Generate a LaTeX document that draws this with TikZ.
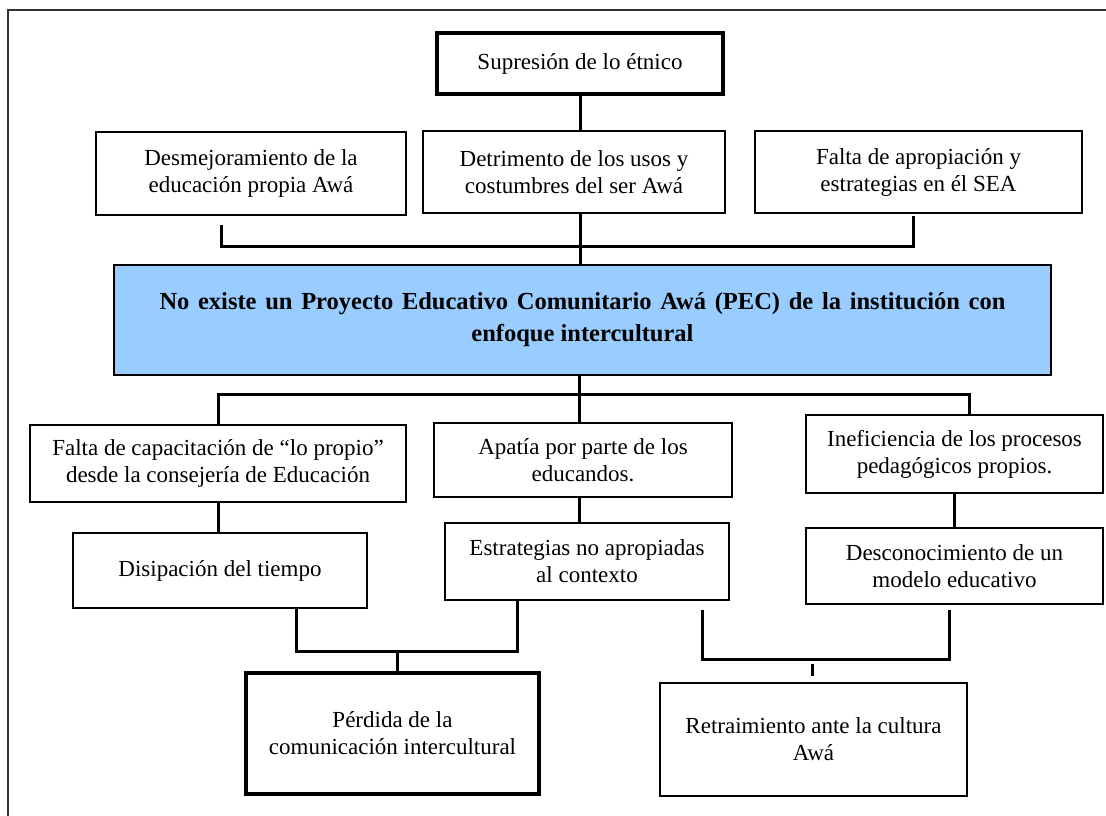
\documentclass[tikz,border=0pt]{standalone}
\usepackage{fontspec}
\setmainfont{Liberation Serif}
\usepackage{xcolor}
\definecolor{pecblue}{RGB}{153, 204, 255}
\usetikzlibrary{calc}

\begin{document}
\begin{tikzpicture}[
  x=1pt, y=-1pt,
  every node/.style={font=\fontsize{23}{27}\selectfont, align=center, inner sep=0pt},
  causebox/.style={draw=black, fill=white, line width=1.8pt},
  strongbox/.style={draw=black, fill=white, line width=3.2pt},
  corebox/.style={draw=black, fill=pecblue, line width=2.4pt, font=\fontsize{24.5}{32}\selectfont\bfseries},
  connector/.style={draw=black, line width=3pt}
]

% Page and frame
\path[fill=white, use as bounding box] (0,0) rectangle (1106,816);
\draw[line width=1.2pt, black!80] (8,816) -- (8,10) -- (1106,10);

% Upper level
\node[strongbox, minimum width=286, minimum height=61] (supr) at (580,63.5) {Supresión de lo étnico};
\node[causebox, minimum width=310, minimum height=83] (desm) at (251,173.5) {Desmejoramiento de la\\educación propia Awá};
\node[causebox, minimum width=302, minimum height=82] (detr) at (574,172) {Detrimento de los usos y\\costumbres del ser Awá};
\node[causebox, minimum width=327, minimum height=82] (apro) at (918.5,172) {Falta de apropiación y\\estrategias en él SEA};

% Central problem
\node[corebox, minimum width=937, minimum height=110] (core) at (582.5,320)
  {\makebox[846pt][s]{No existe un Proyecto Educativo Comunitario Awá (PEC) de la institución con}\\enfoque intercultural};

% Lower level
\node[causebox, minimum width=376, minimum height=77] (capa) at (218,463.5) {Falta de capacitación de “lo propio”\\desde la consejería de Educación};
\node[causebox, minimum width=298, minimum height=74] (apat) at (583,460) {Apatía por parte de los\\educandos.};
\node[causebox, minimum width=297, minimum height=78] (ineff) at (954.5,454) {Ineficiencia de los procesos\\pedagógicos propios.};
\node[causebox, minimum width=294, minimum height=75] (disip) at (220,570.5) {Disipación del tiempo};
\node[causebox, minimum width=284, minimum height=77] (estr) at (587,561.5) {Estrategias no apropiadas\\al contexto};
\node[causebox, minimum width=297, minimum height=76] (desc) at (954.5,566) {Desconocimiento de un\\modelo educativo};
\node[strongbox, minimum width=293, minimum height=121] (perd) at (392.5,733.5) {Pérdida de la\\comunicación intercultural};
\node[causebox, line width=2.2pt, minimum width=307, minimum height=113] (retr) at (813.5,739.5) {Retraimiento ante la cultura\\Awá};

% Junction points
\coordinate (tbl) at (221,225);
\coordinate (tbm) at (567,246);
\coordinate (tbr) at (913,216);
\coordinate (hub) at (579,394);
\coordinate (lj) at (397,651);
\coordinate (rl) at (702,610);
\coordinate (rj) at (812,659);
\coordinate (rr) at (949,610);

% Connections
\draw[connector] (supr.south) -- (supr.south |- detr.north);
\draw[connector] (detr.south -| supr.south) -- (core.north -| supr.south);
\draw[connector] (tbl) |- (tbm) -| (tbr);

\draw[connector] (core.south -| hub) -- (apat.north -| hub);
\draw[connector] (capa.north) |- (hub) -| ($(ineff.north)+(15,0)$);

\draw[connector] (capa.south) -- (capa.south |- disip.north);
\draw[connector] (apat.south -| hub) -- (estr.north -| hub);
\draw[connector] (ineff.south) -- (desc.north);

\draw[connector] ($(disip.south)+(76,0)$) |- (lj) -| ($(estr.south)+(-70,0)$);
\draw[connector] (lj) -- (lj |- perd.north);

\draw[connector] (rl) |- (rj) -| (rr);
\draw[connector] ($(rj)+(0,5)$) -- ($(rj)+(0,17)$);

\end{tikzpicture}
\end{document}
